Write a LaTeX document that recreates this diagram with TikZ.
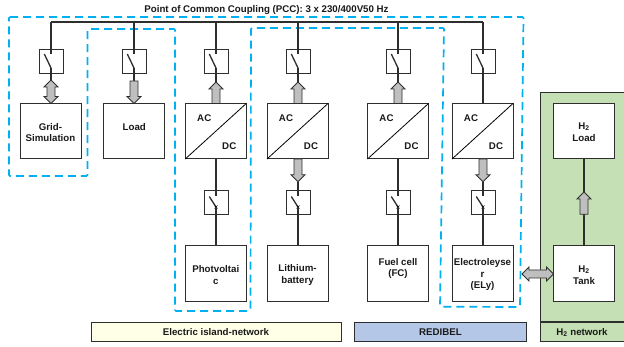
\documentclass[tikz,border=0pt]{standalone}
\usepackage{fontspec}
\setmainfont{Liberation Sans}
\usetikzlibrary{calc}
\definecolor{dashblue}{HTML}{00B0F0}
\definecolor{hgreen}{HTML}{C5E0B4}
\definecolor{barblue}{HTML}{B4C7E7}
\definecolor{baryellow}{HTML}{FFFFE8}
\definecolor{flowgray}{HTML}{BFBFBF}
\definecolor{edge}{HTML}{2E2E2E}
\tikzset{
  x=1pt,y=-1pt,
  wire/.style={draw=edge,line width=1.3pt},
  thinwire/.style={draw=black,line width=0.8pt},
  bigbox/.style={draw=edge,fill=white,line width=1pt,minimum width=61pt,minimum height=55.5pt,inner sep=0pt,outer sep=0pt},
  swbox/.style={draw=edge,fill=white,line width=0.9pt,minimum width=24pt,minimum height=24pt,inner sep=0pt,outer sep=0pt},
  lbl/.style={font=\fontsize{9.7}{11.6}\selectfont\bfseries,text=black!90,align=center,inner sep=0pt},
  barbox/.style={draw=edge,line width=1pt,inner sep=0pt,outer sep=0pt,minimum height=19pt,font=\fontsize{9.7}{11}\selectfont\bfseries,text=black!90},
  flow/.style={draw=edge,fill=flowgray,line width=0.8pt,line join=miter},
  dashline/.style={draw=dashblue,line width=1.7pt,dash pattern=on 8pt off 5pt,rounded corners=1pt},
}
% single-headed block arrow from #1 to #2
\newcommand{\flowone}[2]{%
  \draw[flow] let \p1=(#1),\p2=(#2),\n1={atan2(\y2-\y1,\x2-\x1)},\n2={veclen(\x2-\x1,\y2-\y1)} in
    [shift={(\p1)},rotate=\n1]
    (0pt,4pt) -- (\n2-7pt,4pt) -- (\n2-7pt,7pt) -- (\n2,0pt) -- (\n2-7pt,-7pt) -- (\n2-7pt,-4pt) -- (0pt,-4pt) -- cycle;}
% double-headed block arrow between #1 and #2
\newcommand{\flowtwo}[2]{%
  \draw[flow] let \p1=(#1),\p2=(#2),\n1={atan2(\y2-\y1,\x2-\x1)},\n2={veclen(\x2-\x1,\y2-\y1)} in
    [shift={(\p1)},rotate=\n1]
    (0pt,0pt) -- (7pt,7pt) -- (7pt,4pt) -- (\n2-7pt,4pt) -- (\n2-7pt,7pt) -- (\n2,0pt) -- (\n2-7pt,-7pt) -- (\n2-7pt,-4pt) -- (7pt,-4pt) -- (7pt,-7pt) -- cycle;}
% upper switch: name, x
\newcommand{\swup}[2]{%
  \node[swbox] (#1) at (#2,61.25) {};
  \coordinate (#1-a) at (#2,54);
  \coordinate (#1-b) at (#2,68);
  \coordinate (#1-k) at (#2-6.7,54);
  \draw[wire] (#1-k) -- (#1-b);
}
% lower switch: name, x
\newcommand{\swlow}[2]{%
  \node[swbox] (#1) at (#2,202.75) {};
  \coordinate (#1-a) at (#2,196);
  \coordinate (#1-b) at (#2,207);
  \coordinate (#1-k) at (#2-6.7,196.5);
  \draw[wire] (#1-k) -- (#1-b);
  \draw[line width=0.6pt,draw=black] ($(#1-b)+(-1.5,-1.5)$) -- ($(#1-b)+(1.5,1.5)$) ($(#1-b)+(-1.5,1.5)$) -- ($(#1-b)+(1.5,-1.5)$);
}
% converter box: name, x
\newcommand{\conv}[2]{%
  \node[bigbox] (#1) at (#2,131.25) {};
  \draw[thinwire] (#1.south west) -- (#1.north east);
  \node[lbl] (#1-ac) at (#2-11.5,117.7) {AC};
  \node[lbl] (#1-dc) at (#2+13.5,146.3) {DC};
}
\begin{document}
\begin{tikzpicture}
\useasboundingbox (0,0) rectangle (624,347);
% green area
\node[draw=edge,fill=hgreen,line width=1pt,minimum width=84pt,minimum height=228.5pt,inner sep=0pt,outer sep=0pt] (green) at (582,207.25) {};
% bottom bars
\node[barbox,fill=baryellow,minimum width=250pt] (barA) at (216,332.5) {Electric island-network};
\node[barbox,fill=barblue,minimum width=171.5pt] (barB) at (440.5,332.5) {REDIBEL};
\node[barbox,fill=hgreen,minimum width=84pt] (barC) at (582,332.5) {H\textsubscript{2} network};
% dashed outline
\draw[dashline] (9,17) -- (523.5,17) -- (520,307) -- (440,306.7) -- (444,28) -- (251,28) -- (250.5,311) -- (175,311) -- (175,29) -- (87.5,29) -- (87.5,176) -- (9,176) -- cycle;
% bus
\coordinate (busL) at (51,22);
\coordinate (busR) at (483,22);
\draw[wire] (busL) -- (busR);
\node[lbl] (pcc) at (266.5,10.5) {Point of Common Coupling (PCC): 3 x 230/400V50 Hz};
% switches
\swup{s1}{51}\swup{s2}{134}\swup{s3}{216}\swup{s4}{298}\swup{s5}{398}\swup{s6}{483}
\swlow{l3}{216}\swlow{l4}{298}\swlow{l5}{398}\swlow{l6}{483}
% boxes
\node[bigbox] (grid) at (50.5,131.25) {};
\node[bigbox] (load) at (134.25,131.25) {};
\conv{c3}{215.75}\conv{c4}{297.5}\conv{c5}{398}\conv{c6}{482.5}
\node[bigbox] (pv) at (215.75,273.5) {};
\node[bigbox] (li) at (297.5,273.5) {};
\node[bigbox] (fc) at (398,273.5) {};
\node[bigbox] (ely) at (482.5,273.5) {};
\node[bigbox] (hload) at (584,131.25) {};
\node[bigbox] (htank) at (584,273.5) {};
% labels
\node[lbl] (t1) at (50.5,132.5) {Grid-\\Simulation};
\node[lbl] (t2) at (134.25,127) {Load};
\node[lbl] (t3) at (215.75,275) {Photvoltai\\c};
\node[lbl] (t4) at (297.5,275) {Lithium-\\battery};
\node[lbl] (t5) at (398,268.5) {Fuel cell\\(FC)};
\node[lbl] (t6) at (482.5,274.5) {Electroleyse\\r\\(ELy)};
\node[lbl] (t7) at (584,132) {H\textsubscript{2}\\Load};
\node[lbl] (t8) at (584,275) {H\textsubscript{2}\\Tank};
% arrow ends
\coordinate (e1) at (51,80);
\coordinate (e2) at (134,81);
\coordinate (e3) at (216,82);
\coordinate (e4) at (298,82);
\coordinate (e5) at (398,82);
\coordinate (e4b) at (298,181.7);
\coordinate (e6b) at (483,181.7);
\coordinate (h1) at (584,214.3);
\coordinate (h2) at (584,192);
\coordinate (x1) at (522,274);
% wires
\foreach \s in {s1,s2,s3,s4,s5,s6} {\draw[wire] (\s-a |- busL) -- (\s-a);}
\draw[wire] (s1-b) -- (e1);
\draw[wire] (s2-b) -- (e2);
\draw[wire] (s3-b) -- (e3);
\draw[wire] (s4-b) -- (e4);
\draw[wire] (s5-b) -- (e5);
\draw[wire] (s6-b) -- (s6-b |- c6.north);
\draw[wire] (l3-a |- c3.south) -- (l3-a);
\draw[wire] (e4b) -- (l4-a);
\draw[wire] (l5-a |- c5.south) -- (l5-a);
\draw[wire] (e6b) -- (l6-a);
\draw[wire] (l3-b) -- (l3-b |- pv.north);
\draw[wire] (l4-b) -- (l4-b |- li.north);
\draw[wire] (l5-b) -- (l5-b |- fc.north);
\draw[wire] (l6-b) -- (l6-b |- ely.north);
\draw[wire] (hload.south -| h1) -- (htank.north -| h1);
% block arrows
\flowtwo{e1}{e1 |- grid.north}
\flowone{e2}{e2 |- load.north}
\flowone{e3 |- c3.north}{e3}
\flowone{e4 |- c4.north}{e4}
\flowone{e5 |- c5.north}{e5}
\flowone{e4b |- c4.south}{e4b}
\flowone{e6b |- c6.south}{e6b}
\flowone{h1}{h2}
\flowtwo{x1}{x1 -| htank.west}
\end{tikzpicture}
\end{document}
